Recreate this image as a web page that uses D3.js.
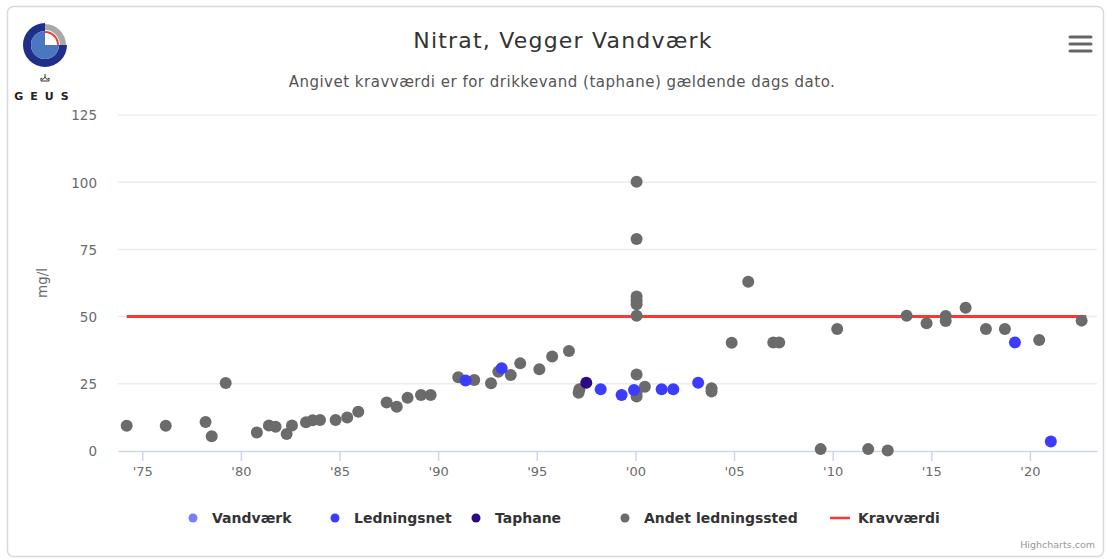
<!DOCTYPE html>
<html>
<head>
<meta charset="utf-8">
<script src="https://cdn.jsdelivr.net/npm/d3@7"></script>
<style>
  html, body { margin: 0; padding: 0; background: #ffffff; }
  svg { display: block; font-family: "DejaVu Sans", "Lucida Grande", Arial, sans-serif; }
</style>
</head>
<body>
<svg id="chart" width="1106" height="559"></svg>
<script>
// ---------------- DATA ----------------
const chartTitle = "Nitrat, Vegger Vandværk";
const chartSubtitle = "Angivet kravværdi er for drikkevand (taphane) gældende dags dato.";
const yAxisTitle = "mg/l";

const xTickYears  = [1975, 1980, 1985, 1990, 1995, 2000, 2005, 2010, 2015, 2020];
const xTickLabels = ["'75", "'80", "'85", "'90", "'95", "'00", "'05", "'10", "'15", "'20"];
const yTickValues = [0, 25, 50, 75, 100, 125];

// [decimal year, mg/l]
const vandvaerk = [];
const ledningsnet = [
  [1991.39, 26.2], [1993.22, 30.8], [1998.24, 23.0], [1999.30, 20.8],
  [1999.93, 22.7], [2001.33, 23.0], [2001.92, 23.0], [2003.18, 25.4],
  [2019.24, 40.4], [2021.06, 3.5]
];
const taphane = [
  [1997.51, 25.4]
];
const andetLedningssted = [
  [1974.21, 9.4], [1976.19, 9.4], [1978.21, 10.8], [1978.52, 5.5], [1979.23, 25.3],
  [1980.81, 6.9], [1981.42, 9.5], [1981.76, 9.0], [1982.32, 6.3], [1982.59, 9.5],
  [1983.30, 10.7], [1983.64, 11.4], [1984.01, 11.5], [1984.80, 11.5], [1985.39, 12.5],
  [1985.95, 14.6], [1987.39, 18.0], [1987.90, 16.5], [1988.45, 19.8], [1989.13, 20.8],
  [1989.62, 20.8], [1991.02, 27.4], [1991.83, 26.4], [1992.68, 25.2], [1993.05, 29.5],
  [1993.68, 28.3], [1994.16, 32.6], [1995.13, 30.4], [1995.78, 35.2], [1996.63, 37.2],
  [1997.12, 21.7], [1997.16, 23.0],
  [2000.06, 100.2], [2000.06, 78.9], [2000.06, 57.5], [2000.06, 56.0], [2000.06, 54.6],
  [2000.06, 50.3], [2000.06, 28.5], [2000.06, 21.8], [2000.06, 20.3],
  [2000.48, 23.9], [2003.86, 23.3], [2003.86, 22.1], [2004.88, 40.3], [2005.72, 63.0],
  [2006.99, 40.4], [2007.29, 40.4], [2009.39, 0.7], [2010.23, 45.4], [2011.80, 0.7],
  [2012.79, 0.2], [2013.75, 50.3], [2014.76, 47.5], [2015.73, 50.2], [2015.73, 48.4],
  [2016.74, 53.3], [2017.77, 45.4], [2018.73, 45.4], [2020.47, 41.3], [2022.62, 48.5]
];
const kravvaerdi = [[1974.21, 50], [2022.85, 50]];

const legendNames = ["Vandværk", "Ledningsnet", "Taphane", "Andet ledningssted", "Kravværdi"];
const seriesColors = ["#7b7bff", "#3c3cff", "#2a0a85", "#6b6b6b", "#ff3535"];

// ---------------- LAYOUT ----------------
const W = 1106, H = 559;
const plot = { left: 118, right: 1097, top: 115, bottom: 451 };

const svg = d3.select("#chart");

// outer frame
svg.append("rect")
  .attr("x", 7.5).attr("y", 6.5).attr("width", W - 10).attr("height", H - 9)
  .attr("rx", 6).attr("fill", "#ffffff").attr("stroke", "#d9d9d9").attr("stroke-width", 1.5);

const x = d3.scaleLinear().domain([1973.77, 2023.40]).range([plot.left, plot.right]);
const y = d3.scaleLinear().domain([0, 125]).range([plot.bottom, plot.top]);

// gridlines
svg.append("g").selectAll("line").data(yTickValues.filter(v => v > 0)).join("line")
  .attr("x1", plot.left).attr("x2", plot.right)
  .attr("y1", d => y(d)).attr("y2", d => y(d))
  .attr("stroke", "#ececec").attr("stroke-width", 1.5);

// y axis labels
const yAxis = d3.axisLeft(y).tickValues(yTickValues).tickSize(0).tickPadding(0);
const gy = svg.append("g").attr("transform", `translate(${plot.left - 21},0)`).call(yAxis);
gy.select(".domain").remove();
gy.selectAll("text").attr("fill", "#6a6a6a").style("font-size", "13.5px")
  .style("font-family", "DejaVu Sans, sans-serif").attr("dy", "0.36em");

// x axis
const xAxis = d3.axisBottom(x).tickValues(xTickYears)
  .tickFormat((d, i) => xTickLabels[i]).tickSize(10).tickPadding(6).tickSizeOuter(0);
const gx = svg.append("g").attr("transform", `translate(0,${plot.bottom})`).call(xAxis);
gx.select(".domain").attr("stroke", "#ccd6eb").attr("stroke-width", 1.5);
gx.selectAll(".tick line").attr("stroke", "#ccd6eb").attr("stroke-width", 1.5);
gx.selectAll("text").attr("fill", "#6a6a6a").style("font-size", "13px")
  .style("font-family", "DejaVu Sans, sans-serif");

// y axis title
svg.append("text")
  .attr("transform", `translate(47,${(plot.top + plot.bottom) / 2}) rotate(-90)`)
  .attr("text-anchor", "middle").attr("fill", "#6a6a6a")
  .style("font-size", "13.5px").text(yAxisTitle);

// Kravværdi line
const line = d3.line().x(d => x(d[0])).y(d => y(d[1]));
svg.append("path").datum(kravvaerdi).attr("d", line)
  .attr("fill", "none").attr("stroke", seriesColors[4]).attr("stroke-width", 3);

// points
function drawPoints(data, color) {
  svg.append("g").selectAll("circle").data(data).join("circle")
    .attr("cx", d => x(d[0])).attr("cy", d => y(d[1])).attr("r", 6)
    .attr("fill", color);
}
drawPoints(vandvaerk, seriesColors[0]);
drawPoints(andetLedningssted, seriesColors[3]);
drawPoints(ledningsnet, seriesColors[1]);
drawPoints(taphane, seriesColors[2]);

// title / subtitle
svg.append("text").attr("x", 563).attr("y", 48).attr("text-anchor", "middle")
  .attr("fill", "#333333").style("font-size", "22px").style("letter-spacing", "1.2px").text(chartTitle);
svg.append("text").attr("x", 562).attr("y", 87).attr("text-anchor", "middle")
  .attr("fill", "#555555").style("font-size", "15px").style("letter-spacing", "0.5px").text(chartSubtitle);

// legend
const legendX = [193, 335, 476, 625, 840];
const lg = svg.append("g");
legendNames.forEach((name, i) => {
  const g = lg.append("g").attr("transform", `translate(${legendX[i]},518)`);
  if (i < 4) {
    g.append("circle").attr("r", 4.5).attr("fill", seriesColors[i]);
  } else {
    g.append("line").attr("x1", -10).attr("x2", 10).attr("stroke", seriesColors[i]).attr("stroke-width", 2.5);
  }
  g.append("text").attr("x", i < 4 ? 19 : 18).attr("dy", "0.36em")
    .attr("fill", "#333333").style("font-size", "14px").style("font-weight", "bold")
    .text(name);
});

// credits
svg.append("text").attr("x", 1095).attr("y", 548).attr("text-anchor", "end")
  .attr("fill", "#999999").style("font-size", "9.5px").text("Highcharts.com");

// menu icon
const menu = svg.append("g").attr("stroke", "#666666").attr("stroke-width", 3).attr("stroke-linecap", "round");
[37, 44, 51].forEach(yy => menu.append("line").attr("x1", 1070).attr("x2", 1091).attr("y1", yy).attr("y2", yy));

// GEUS logo
const logo = svg.append("g").attr("transform", "translate(45,45)");
const arc = d3.arc();
const tau = Math.PI * 2;
logo.append("path").attr("d", arc({ innerRadius: 14, outerRadius: 22, startAngle: Math.PI / 2, endAngle: tau }))
  .attr("fill", "#1f2f8a");
logo.append("path").attr("d", arc({ innerRadius: 15, outerRadius: 21, startAngle: 0, endAngle: Math.PI / 2 }))
  .attr("fill", "#a9a9a9");
logo.append("path").attr("d", arc({ innerRadius: 12, outerRadius: 14, startAngle: 0, endAngle: Math.PI / 2 }))
  .attr("fill", "#e0443c");
logo.append("path").attr("d", arc({ innerRadius: 0, outerRadius: 14, startAngle: Math.PI / 2, endAngle: tau }))
  .attr("fill", "#4a76c2");
// crown
const crown = svg.append("g").attr("transform", "translate(45,79)").attr("fill", "none").attr("stroke", "#333").attr("stroke-width", 1);
crown.append("path").attr("d", "M-4,2 L4,2 L4,-1 L2,0.5 L0,-2 L-2,0.5 L-4,-1 Z");
crown.append("line").attr("x1", 0).attr("x2", 0).attr("y1", -5).attr("y2", -2);
svg.append("text").attr("x", 45).attr("y", 100).attr("text-anchor", "middle")
  .attr("fill", "#222").style("font-size", "11px").style("font-weight", "bold")
  .style("letter-spacing", "7px").text("GEUS");
</script>
</body>
</html>
